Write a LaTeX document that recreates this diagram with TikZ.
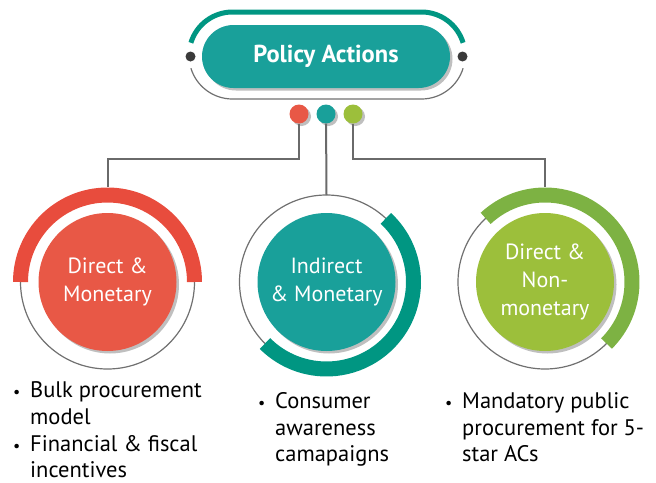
\documentclass[tikz,border=0pt]{standalone}
\usepackage{fontspec}
\setmainfont{PT Sans}
\usetikzlibrary{shadows}

\definecolor{tealfill}{HTML}{19A09A}
\definecolor{tealarc}{HTML}{009682}
\definecolor{redfill}{HTML}{E85846}
\definecolor{redarc}{HTML}{E84C3D}
\definecolor{greenfill}{HTML}{9CBF3B}
\definecolor{greenarc}{HTML}{7DB243}
\definecolor{ringgray}{HTML}{707070}
\definecolor{linegray}{HTML}{6A6A6A}
\definecolor{dotgray}{HTML}{3A3A3A}

\tikzset{
  softshadow/.style={drop shadow={shadow xshift=2.5pt, shadow yshift=-2.5pt, opacity=0.25, fill=black}},
  pill/.style={rectangle, rounded corners=31.5pt, minimum width=248pt, minimum height=63pt,
    inner sep=0pt, fill=tealfill, text=white, font=\bfseries\fontsize{24.5}{28}\selectfont, softshadow},
  enddot/.style={circle, fill=dotgray, minimum size=10pt, inner sep=0pt},
  colordot/.style={circle, fill=#1, minimum size=19pt, inner sep=0pt, softshadow},
  disc/.style={circle, fill=#1, minimum size=138pt, inner sep=0pt, text=white, align=center,
    font=\fontsize{22}{28}\selectfont, softshadow},
  ring/.style={draw=ringgray, line width=1.2pt},
  band/.style={line width=15pt},
  conn/.style={draw=linegray, line width=2pt},
  bulletmark/.style={anchor=base west, inner sep=0pt, font=\fontsize{16}{20}\selectfont},
  itemline/.style={anchor=base west, inner sep=0pt, font=\fontsize{22.5}{27}\selectfont},
}

\begin{document}
\begin{tikzpicture}[x=1pt, y=1pt]
\useasboundingbox (0,0) rectangle (656,-482);

% ---- heading pill with its frame ----
\draw[tealarc, line width=5pt] (232.5,-55.5) ++(163:43.5) arc[start angle=163, end angle=90, radius=43.5]
  -- (421.5,-12) arc[start angle=90, end angle=17, radius=43.5];
\draw[ring] (232.5,-55.5) ++(197:43.5) arc[start angle=197, end angle=270, radius=43.5]
  -- (421.5,-99) arc[start angle=270, end angle=343, radius=43.5];
\node[enddot] (dotl) at (190.5,-56.5) {};
\node[enddot] (dotr) at (462.5,-56.5) {};
\node[pill] (head) at (326,-56.5) {Policy Actions};

% ---- three coloured dots ----
\node[colordot=redfill] (dred) at (299,-114) {};
\node[colordot=tealfill] (dteal) at (326,-114) {};
\node[colordot=greenfill] (dgreen) at (353,-114) {};

% ---- junctions and ring tops ----
\coordinate (jred) at (299,-159);
\coordinate (jgreen) at (353,-159);
\coordinate (topA) at (107.5,-187);
\coordinate (topB) at (326.5,-195);
\coordinate (topC) at (545,-187);

\draw[conn] (dred) -- (jred) -| (topA);
\draw[conn] (dteal) -- (topB);
\draw[conn] (dgreen) -- (jgreen) -| (topC);

% ---- category circles ----
% Direct & Monetary
\draw[ring] (107.5,-282) circle[radius=87];
\draw[redarc, band] (107.5,-282) ++(0:87) arc[start angle=0, end angle=180, radius=87];
\node[disc=redfill] (catA) at (107.5,-282) {Direct \&\\Monetary};

% Indirect & Monetary
\draw[ring] (326.5,-282) circle[radius=87];
\draw[tealarc, band] (326.5,-282) ++(47:87) arc[start angle=47, end angle=-135, radius=87];
\node[disc=tealfill] (catB) at (326.5,-282) {Indirect\\\& Monetary};

% Direct & Non-monetary
\draw[ring] (545,-282) circle[radius=87];
\draw[greenarc, band] (545,-282) ++(133:87) arc[start angle=133, end angle=-45, radius=87];
\node[disc=greenfill] (catC) at (545,-282) {Direct \&\\Non-\\monetary};

% ---- bullet lists ----
\node[bulletmark] (bA1) at (13,-397) {•};
\node[itemline] (tA1) at (30,-397) {Bulk procurement};
\node[itemline] (tA2) at (30,-424) {model};
\node[bulletmark] (bA2) at (13,-451) {•};
\node[itemline] (tA3) at (30,-451) {Financial \& fiscal};
\node[itemline] (tA4) at (30,-477) {incentives};

\node[bulletmark] (bB1) at (258,-408) {•};
\node[itemline] (tB1) at (275,-408) {Consumer};
\node[itemline] (tB2) at (275,-435) {awareness};
\node[itemline] (tB3) at (275,-461) {camapaigns};

\node[bulletmark] (bC1) at (445,-408) {•};
\node[itemline] (tC1) at (462,-408) {Mandatory public};
\node[itemline] (tC2) at (462,-435) {procurement for 5-};
\node[itemline] (tC3) at (462,-461) {star ACs};
\end{tikzpicture}
\end{document}
